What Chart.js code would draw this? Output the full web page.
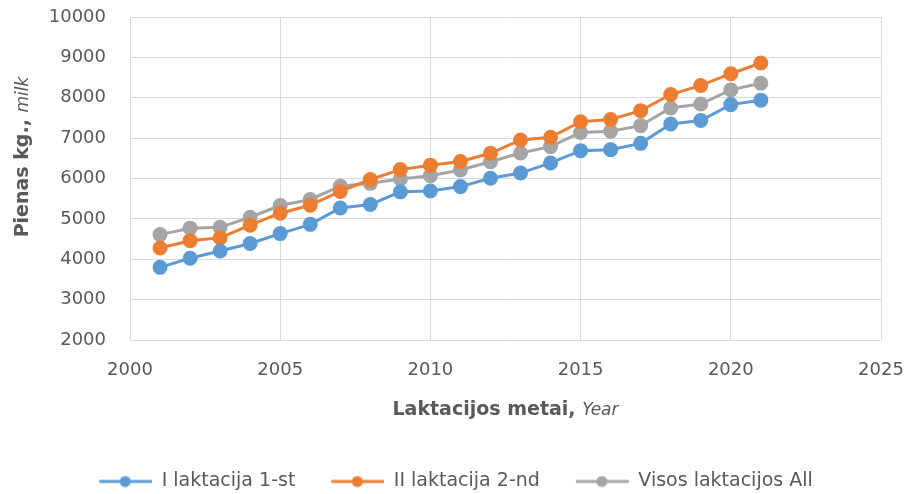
<!DOCTYPE html>
<html>
<head>
<meta charset="utf-8">
<script src="https://cdn.jsdelivr.net/npm/chart.js@4/dist/chart.umd.min.js"></script>
<style>
  html, body { margin: 0; padding: 0; background: #fff; }
  #wrap { width: 908px; height: 494px; position: relative; }
</style>
</head>
<body>
<div id="wrap"><canvas id="milkChart" width="908" height="494"></canvas></div>
<script>
// metai
const years = [2001, 2002, 2003, 2004, 2005, 2006, 2007, 2008, 2009, 2010, 2011,
               2012, 2013, 2014, 2015, 2016, 2017, 2018, 2019, 2020, 2021];

// I laktacija
const firstLact = [3800, 4025, 4205, 4390, 4635, 4865, 5270, 5355, 5670, 5690, 5800,
                   6005, 6135, 6385, 6690, 6715, 6870, 7350, 7435, 7830, 7940];

// II laktacija
const secondLact = [4280, 4460, 4530, 4845, 5140, 5340, 5680, 5975, 6220, 6330, 6420,
                    6625, 6955, 7020, 7405, 7460, 7680, 8080, 8305, 8595, 8860];

// visos laktacijos
const allLact = [4610, 4770, 4790, 5040, 5330, 5480, 5810, 5880, 5990, 6070, 6210,
                 6415, 6630, 6790, 7140, 7170, 7310, 7745, 7845, 8195, 8360];

const seriesNames = ['I laktacija 1-st', 'II laktacija 2-nd', 'Visos laktacijos All'];
const seriesColors = ['#5B9BD5', '#ED7D31', '#A5A5A5'];

const xTicks = [2000, 2005, 2010, 2015, 2020, 2025];
const yTicks = [2000, 3000, 4000, 5000, 6000, 7000, 8000, 9000, 10000];

const textColor = '#595959';
const gridColor = '#D9D9D9';
const fontFamily = '"DejaVu Sans", sans-serif';

// legendos simbolis: linija su tasku
function legendMarker(color) {
    const c = document.createElement('canvas');
    c.width = 68;
    c.height = 14;
    const g = c.getContext('2d');
    g.strokeStyle = color;
    g.lineWidth = 3;
    g.beginPath();
    g.moveTo(15, 7);
    g.lineTo(68, 7);
    g.stroke();
    g.fillStyle = color;
    g.beginPath();
    g.arc(41, 7, 5.5, 0, Math.PI * 2);
    g.fill();
    return c;
}

function toPoints(values) {
    return years.map((y, i) => ({ x: y, y: values[i] }));
}

// asiu pavadinimai su pusjuodziu ir pasviruoju sriftu
const axisTitles = {
    id: 'axisTitles',
    afterDraw(chart) {
        const ctx = chart.ctx;
        const area = chart.chartArea;
        ctx.save();
        ctx.fillStyle = textColor;
        ctx.textBaseline = 'middle';

        // x asis
        const boldX = 'bold 19px ' + fontFamily;
        const italX = 'italic 17px ' + fontFamily;
        ctx.font = boldX;
        const w1 = ctx.measureText('Laktacijos metai, ').width;
        ctx.font = italX;
        const w2 = ctx.measureText('Year').width;
        let x0 = (area.left + area.right) / 2 - (w1 + w2) / 2;
        const yx = 410;
        ctx.textAlign = 'left';
        ctx.font = boldX;
        ctx.fillText('Laktacijos metai, ', x0, yx);
        ctx.font = italX;
        ctx.fillText('Year', x0 + w1, yx + 1);

        // y asis
        ctx.translate(23, 157);
        ctx.rotate(-Math.PI / 2);
        ctx.font = boldX;
        const v1 = ctx.measureText('Pienas kg., ').width;
        ctx.font = italX;
        const v2 = ctx.measureText('milk').width;
        x0 = -(v1 + v2) / 2;
        ctx.font = boldX;
        ctx.fillText('Pienas kg., ', x0, 0);
        ctx.font = italX;
        ctx.fillText('milk', x0 + v1, 1);
        ctx.restore();
    }
};

function makeDataset(label, values, color) {
    return {
        label: label,
        data: toPoints(values),
        borderColor: color,
        backgroundColor: color,
        borderWidth: 3,
        pointRadius: 6,
        pointHoverRadius: 6,
        pointBackgroundColor: color,
        pointBorderColor: color,
        pointStyle: 'circle',
        tension: 0
    };
}

const ctx = document.getElementById('milkChart').getContext('2d');
new Chart(ctx, {
    type: 'line',
    data: {
        datasets: [
            makeDataset(seriesNames[0], firstLact, seriesColors[0]),
            makeDataset(seriesNames[1], secondLact, seriesColors[1]),
            makeDataset(seriesNames[2], allLact, seriesColors[2])
        ]
    },
    plugins: [axisTitles],
    options: {
        responsive: false,
        animation: false,
        devicePixelRatio: 1,
        layout: {
            padding: { left: 16, right: 27, top: 17, bottom: -7 }
        },
        plugins: {
            legend: {
                position: 'bottom',
                labels: {
                    usePointStyle: true,
                    pointStyleWidth: 68,
                    boxHeight: 14,
                    padding: 21,
                    color: textColor,
                    font: { family: fontFamily, size: 19 },
                    generateLabels(chart) {
                        return chart.data.datasets.map((ds, i) => ({
                            text: ds.label,
                            pointStyle: legendMarker(seriesColors[i]),
                            fillStyle: seriesColors[i],
                            strokeStyle: seriesColors[i],
                            lineWidth: 0,
                            fontColor: textColor,
                            hidden: false,
                            datasetIndex: i
                        }));
                    }
                }
            },
            tooltip: { enabled: false }
        },
        scales: {
            x: {
                type: 'linear',
                min: xTicks[0],
                max: xTicks[xTicks.length - 1],
                afterBuildTicks(scale) {
                    scale.ticks = xTicks.map(v => ({ value: v }));
                },
                afterFit(scale) {
                    scale.height = 111;
                    scale.paddingLeft = 0;
                    scale.paddingRight = 0;
                },
                grid: { color: gridColor, lineWidth: 1, drawTicks: false },
                border: { display: false },
                ticks: {
                    color: textColor,
                    padding: 20,
                    font: { family: fontFamily, size: 18 },
                    callback: v => String(v)
                }
            },
            y: {
                min: yTicks[0],
                max: yTicks[yTicks.length - 1],
                afterBuildTicks(scale) {
                    scale.ticks = yTicks.map(v => ({ value: v }));
                },
                afterFit(scale) {
                    scale.width = 114;
                    scale.paddingTop = 0;
                    scale.paddingBottom = 0;
                },
                grid: { color: gridColor, lineWidth: 1, drawTicks: false },
                border: { display: false },
                ticks: {
                    color: textColor,
                    padding: 24,
                    font: { family: fontFamily, size: 18 },
                    callback: v => String(v)
                }
            }
        }
    }
});
</script>
</body>
</html>
